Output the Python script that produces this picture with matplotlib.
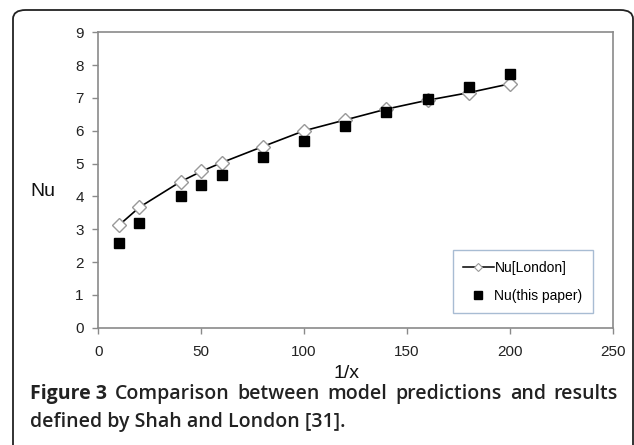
import numpy as np
import matplotlib.pyplot as plt
from matplotlib.patches import FancyBboxPatch
from matplotlib.lines import Line2D

# data
inv_x = [10, 20, 40, 50, 60, 80, 100, 120, 140, 160, 180, 200]
nu_london = [3.12, 3.67, 4.45, 4.76, 5.03, 5.52, 6.0, 6.33, 6.66, 6.93, 7.16, 7.43]
nu_paper = [2.57, 3.18, 4.02, 4.35, 4.66, 5.2, 5.69, 6.15, 6.57, 6.96, 7.32, 7.73]

caption_bold = "Figure 3"
caption_line1 = "Comparison between model predictions and results"
caption_line2 = "defined by Shah and London [31]."

W, H = 634, 445
fig = plt.figure(figsize=(W / 100, H / 100), dpi=100)

# rounded frame around the whole figure
frame = FancyBboxPatch((13 / W, -0.2), 620 / W, 1.2 - 10 / H,
                       boxstyle="round,pad=0,rounding_size=0.02",
                       transform=fig.transFigure, fill=False,
                       edgecolor="#222222", linewidth=1.3, clip_on=False)
fig.patches.append(frame)

ax = fig.add_axes([98.3 / W, 1 - 327.7 / H, 514.4 / W, 295.4 / H])
ax.plot(inv_x, nu_london, color="black", lw=1.2, marker="D", ms=7.5,
        mfc="white", mec="#999999", mew=1.0, zorder=3)
ax.plot(inv_x, nu_paper, ls="none", marker="s", ms=6.5, color="black", zorder=4)

ax.set_xlim(0, 250)
ax.set_ylim(0, 9)
ax.set_xticks(np.arange(0, 251, 50))
ax.set_yticks(np.arange(0, 10, 1))
for sp in ax.spines.values():
    sp.set_color("#8a8a8a")
    sp.set_linewidth(1.2)
ax.tick_params(direction="out", length=4.5, width=1.0, color="#8a8a8a",
               labelsize=11, labelcolor="#222222")
ax.tick_params(axis="x", pad=8)
ax.tick_params(axis="y", pad=6)
for lab in ax.get_xticklabels() + ax.get_yticklabels():
    lab.set_family("Liberation Sans")

fig.text(42.5 / W, 1 - 191 / H, "Nu", family="Liberation Sans", fontsize=14,
         ha="center", va="center", color="#111111")
fig.text(346.5 / W, 1 - 374 / H, "1/x", family="Liberation Sans", fontsize=14,
         ha="center", va="center", color="#111111")

handles = [
    Line2D([], [], color="black", lw=1.1, marker="D", ms=4, mfc="white",
           mec="#999999", mew=0.8),
    Line2D([], [], ls="none", marker="s", ms=5.5, color="black"),
]
leg = ax.legend(handles, ["Nu[London]", "Nu(this paper)"],
                loc="lower right", bbox_to_anchor=(494.7 / 514.4, 14.7 / 295.4),
                prop={"family": "Liberation Sans", "size": 10},
                frameon=True, fancybox=False, handlelength=2.2,
                handletextpad=0.05, labelspacing=1.0, borderpad=0.75,
                borderaxespad=0)
leg.get_frame().set_edgecolor("#93abc8")
leg.get_frame().set_linewidth(1.0)

# justified caption
fig.canvas.draw()
r = fig.canvas.get_renderer()
x0, x1 = 30, 618
cap_kw = dict(family="Open Sans", fontsize=14, color="#222222", va="baseline")


def width_of(s, weight):
    t = fig.text(0, 0, s, weight=weight, **cap_kw)
    w = t.get_window_extent(r).width
    t.remove()
    return w


words = [(caption_bold, "bold")] + [(w, "semibold") for w in caption_line1.split()]
widths = [width_of(w, wt) for w, wt in words]
gap = (x1 - x0 - sum(widths)) / (len(words) - 1)
x = x0
y1 = 1 - 399 / H
for (w, wt), ww in zip(words, widths):
    fig.text(x / W, y1, w, weight=wt, **cap_kw)
    x += ww + gap

fig.text(x0 / W, 1 - 427 / H, caption_line2, weight="semibold", **cap_kw)

fig.savefig("out.png", dpi=100)
